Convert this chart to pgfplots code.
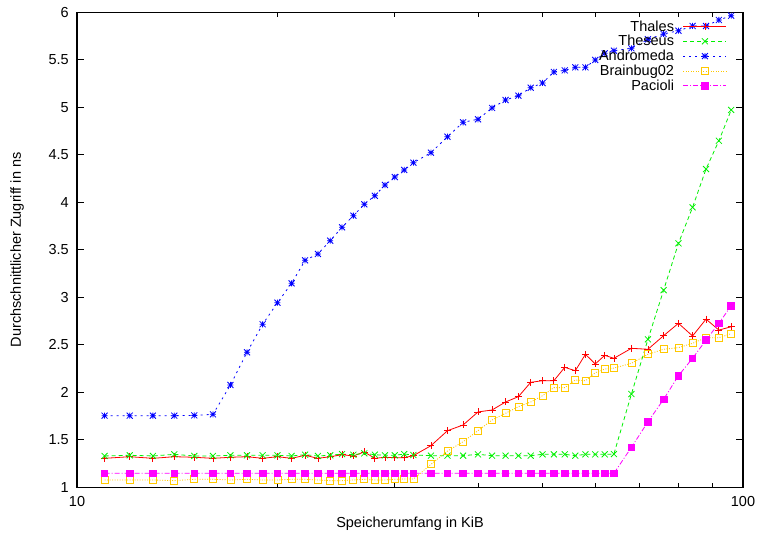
\documentclass[border=0pt]{standalone}
\usepackage{fontspec}
\setmainfont{Liberation Sans}
\usepackage{pgfplots}
\usepackage{pgfplotstable}
\pgfplotsset{compat=1.18}
\definecolor{cthales}{RGB}{255,0,0}
\definecolor{ctheseus}{RGB}{0,240,0}
\definecolor{candro}{RGB}{0,0,255}
\definecolor{cbrain}{RGB}{255,200,0}
\definecolor{cpac}{RGB}{255,0,255}
\newcommand\cf{\fontsize{14.5}{16}\selectfont}

\pgfdeclareplotmark{gpx}{%
  \pgfpathmoveto{\pgfqpoint{-\pgfplotmarksize}{-\pgfplotmarksize}}%
  \pgfpathlineto{\pgfqpoint{\pgfplotmarksize}{\pgfplotmarksize}}%
  \pgfpathmoveto{\pgfqpoint{-\pgfplotmarksize}{\pgfplotmarksize}}%
  \pgfpathlineto{\pgfqpoint{\pgfplotmarksize}{-\pgfplotmarksize}}%
  \pgfusepathqstroke}
\pgfdeclareplotmark{gpstar}{%
  \pgfpathmoveto{\pgfqpoint{-\pgfplotmarksize}{0pt}}%
  \pgfpathlineto{\pgfqpoint{\pgfplotmarksize}{0pt}}%
  \pgfpathmoveto{\pgfqpoint{0pt}{-\pgfplotmarksize}}%
  \pgfpathlineto{\pgfqpoint{0pt}{\pgfplotmarksize}}%
  \pgfpathmoveto{\pgfqpoint{-\pgfplotmarksize}{-\pgfplotmarksize}}%
  \pgfpathlineto{\pgfqpoint{\pgfplotmarksize}{\pgfplotmarksize}}%
  \pgfpathmoveto{\pgfqpoint{-\pgfplotmarksize}{\pgfplotmarksize}}%
  \pgfpathlineto{\pgfqpoint{\pgfplotmarksize}{-\pgfplotmarksize}}%
  \pgfusepathqstroke}

\pgfplotstableread{
x  th    ts    an    bb    pa
11 1.305 1.330 1.754 1.077 1.147
12 1.322 1.337 1.754 1.077 1.147
13 1.305 1.330 1.754 1.077 1.147
14 1.322 1.347 1.754 1.070 1.147
15 1.316 1.330 1.757 1.084 1.147
16 1.305 1.330 1.768 1.084 1.147
17 1.316 1.337 2.077 1.077 1.147
18 1.322 1.337 2.421 1.084 1.147
19 1.305 1.337 2.716 1.077 1.147
20 1.322 1.337 2.943 1.077 1.147
21 1.305 1.330 3.147 1.084 1.147
22 1.337 1.343 3.389 1.084 1.147
23 1.305 1.330 3.456 1.077 1.147
24 1.322 1.337 3.596 1.070 1.147
25 1.343 1.350 3.737 1.070 1.147
26 1.330 1.343 3.859 1.077 1.147
27 1.372 1.358 3.979 1.084 1.147
28 1.305 1.343 4.069 1.077 1.147
29 1.316 1.337 4.182 1.077 1.147
30 1.312 1.337 4.266 1.084 1.147
31 1.312 1.350 4.340 1.087 1.147
32 1.333 1.340 4.417 1.087 1.147
34 1.438 1.333 4.522 1.242 1.147
36 1.596 1.333 4.690 1.382 1.147
38 1.656 1.333 4.842 1.480 1.147
40 1.793 1.347 4.874 1.596 1.147
42 1.814 1.333 4.993 1.709 1.147
44 1.898 1.333 5.077 1.779 1.147
46 1.954 1.333 5.122 1.849 1.147
48 2.105 1.333 5.206 1.898 1.147
50 2.122 1.347 5.256 1.964 1.147
52 2.122 1.347 5.372 2.049 1.147
54 2.263 1.347 5.389 2.049 1.147
56 2.227 1.333 5.421 2.129 1.147
58 2.400 1.347 5.421 2.122 1.147
60 2.298 1.347 5.498 2.206 1.147
62 2.389 1.347 5.568 2.245 1.147
64 2.358 1.350 5.596 2.255 1.147
68 2.463 1.982 5.621 2.305 1.421
72 2.453 2.558 5.716 2.400 1.690
76 2.596 3.075 5.772 2.453 1.926
80 2.726 3.568 5.806 2.470 2.175
84 2.593 3.947 5.856 2.516 2.358
88 2.770 4.350 5.856 2.575 2.550
92 2.655 4.648 5.919 2.575 2.726
96 2.690 4.972 5.964 2.617 2.912
}\datatable

\begin{document}
\begin{tikzpicture}
\begin{axis}[
  scale only axis, width=666pt, height=475pt,
  xmode=log, xmin=10, xmax=100, ymin=1, ymax=6,
  xtick={10,100}, xticklabels={10,100},
  minor xtick={20,30,40,50,60,70,80,90},
  ytick={1,1.5,2,2.5,3,3.5,4,4.5,5,5.5,6},
  yticklabels={1,1.5,2,2.5,3,3.5,4,4.5,5,5.5,6},
  tick align=inside,
  major tick length=7pt, minor tick length=4.5pt,
  axis line style={line width=1.2pt, black},
  tick style={line width=0.8pt, black},
  /pgf/number format/assume math mode=true,
  every tick label/.append style={font=\cf},
  yticklabel style={inner xsep=0pt, xshift=-8pt},
  xticklabel style={inner ysep=0pt, yshift=-9pt},
  xlabel={Speicherumfang in KiB},
  ylabel={Durchschnittlicher Zugriff in ns},
  xlabel style={font=\cf, at={(axis description cs:0.5,-0.076)}, anchor=center},
  ylabel style={font=\cf, at={(axis description cs:-0.09,0.5)}, anchor=center},
  legend plot pos=right,
  legend cell align=right,
  legend style={at={(rel axis cs:1,1)}, anchor=north east, xshift=-16pt, yshift=-7pt,
    draw=none, fill=none, font=\cf, row sep=0.8pt, column sep=8pt, inner sep=0pt,
    nodes={inner sep=1pt}},
  legend image code/.code={%
    \draw[#1, mark repeat=2, mark phase=2] plot coordinates {(0pt,0pt) (21.5pt,0pt) (43pt,0pt)};},
  every axis plot/.append style={line width=0.8pt},
]
\addplot[cthales, solid, mark=+, mark size=3.5pt, mark options={solid}] table[x=x, y=th] {\datatable};
\addlegendentry{Thales}
\addplot[ctheseus, dash pattern=on 4pt off 3pt, mark=gpx, mark size=3pt, mark options={solid}] table[x=x, y=ts] {\datatable};
\addlegendentry{Theseus}
\addplot[candro, dash pattern=on 2pt off 4pt, mark=gpstar, mark size=3pt, mark options={solid}] table[x=x, y=an] {\datatable};
\addlegendentry{Andromeda}
\addplot[cbrain, dash pattern=on 1pt off 1.5pt, mark=square, mark size=3.5pt, mark options={solid}] table[x=x, y=bb] {\datatable};
\addlegendentry{Brainbug02}
\addplot[cpac, dash pattern=on 5pt off 2pt on 1pt off 2pt, mark=square*, mark size=3.3pt, mark options={solid}] table[x=x, y=pa] {\datatable};
\addlegendentry{Pacioli}
\coordinate (bl) at (rel axis cs:0,0);
\coordinate (tr) at (rel axis cs:1,1);
\end{axis}
\pgfresetboundingbox
\path ([shift={(-77pt,-45.7pt)}]bl) rectangle ([shift={(15pt,12.3pt)}]tr);
\end{tikzpicture}
\end{document}
